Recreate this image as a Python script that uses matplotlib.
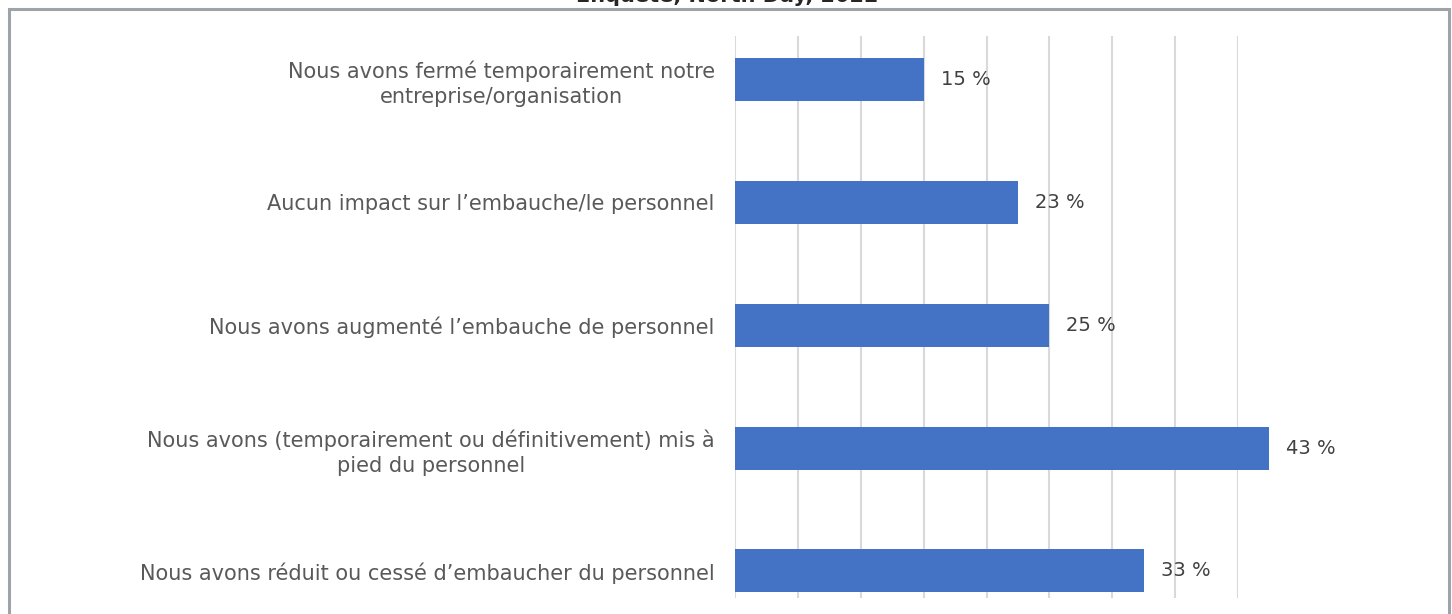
import matplotlib
matplotlib.use("Agg")
import matplotlib.pyplot as plt
from matplotlib.patches import Rectangle

# données (de haut en bas)
categories = [
    "Nous avons fermé temporairement notre\nentreprise/organisation",
    "Aucun impact sur l\u2019embauche/le personnel",
    "Nous avons augmenté l\u2019embauche de personnel",
    "Nous avons (temporairement ou définitivement) mis à\npied du personnel",
    "Nous avons réduit ou cessé d\u2019embaucher du personnel",
]
values = [15, 22.5, 25, 42.5, 32.5]
value_labels = ["15 %", "23 %", "25 %", "43 %", "33 %"]
ticks = list(range(0, 41, 5))
title = "Enquête, North Day, 2022"

plt.rcParams['font.family'] = ['DejaVu Sans']

W, H = 1452, 614
fig = plt.figure(figsize=(W / 100, H / 100), dpi=100)
ax = fig.add_axes([735 / W, 16 / H, (1238 - 735) / W, (598 - 36) / H])

y = list(range(len(categories)))
bars = ax.barh(y, values, height=0.35, color='#4472c4', clip_on=False, zorder=3)

ax.set_xlim(0, 40)
ax.set_ylim(4.22, -0.354)
ax.set_xticks(ticks)
ax.set_yticks(y)
ax.set_yticklabels(categories, fontsize=15, color='#595959',
                   multialignment='center', linespacing=1.3)
ax.tick_params(axis='y', length=0, pad=14.5)
ax.tick_params(axis='x', length=0, labelbottom=False)
ax.grid(axis='x', color='#d9d9d9', linewidth=1.5, zorder=0)
for s in ax.spines.values():
    s.set_visible(False)

for b, lab in zip(bars, value_labels):
    ax.annotate(lab, (b.get_width(), b.get_y() + b.get_height() / 2),
                xytext=(17, 0), textcoords='offset pixels',
                va='center', ha='left', fontsize=14, color='#404040',
                annotation_clip=False)

# cadre gris autour du graphique
fig.patches.append(Rectangle((8.5 / W, -0.1), (1448.5 - 8.5) / W, 1.1 - 9.5 / H,
                             transform=fig.transFigure, fill=False,
                             edgecolor='#9ea3a8', linewidth=2.2))
# titre coupé en haut (comme dans l'original)
fig.text(727 / W, 1 - 1.5 / H, title, ha='center', va='baseline',
         fontsize=15, fontweight='bold', color='#262626')

fig.savefig("out.png", dpi=100, facecolor='white')
